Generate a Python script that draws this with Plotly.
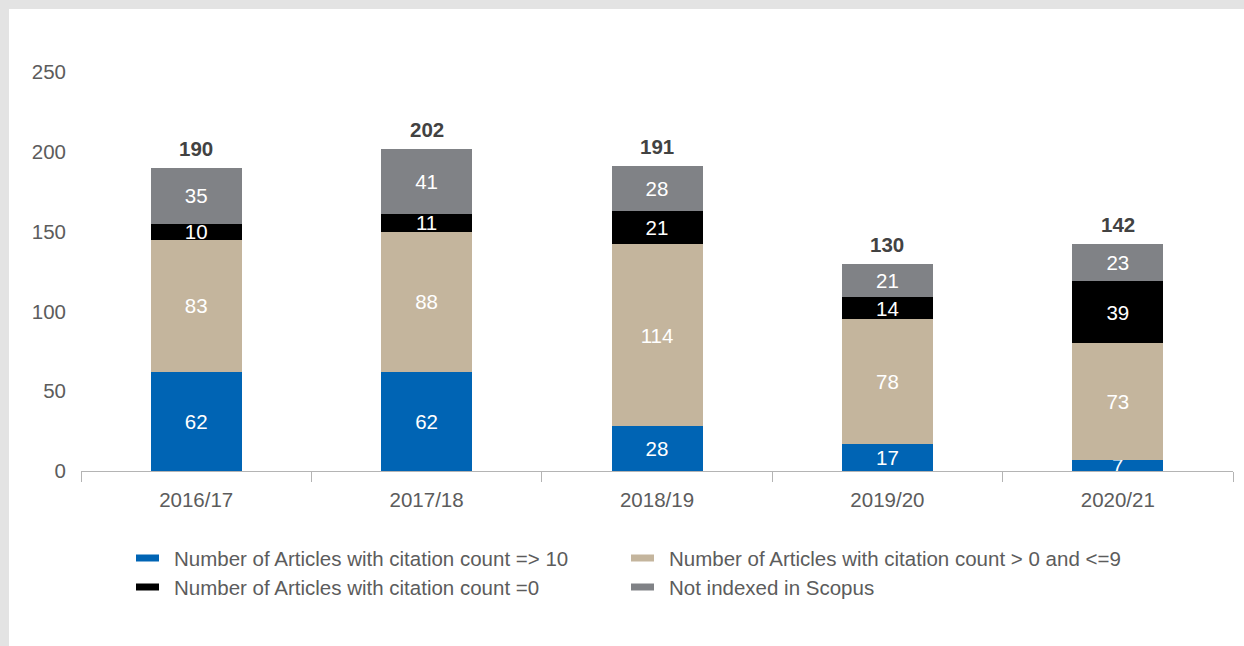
import plotly.graph_objects as go

years = ["2016/17", "2017/18", "2018/19", "2019/20", "2020/21"]
cited_10_plus = [62, 62, 28, 17, 7]
cited_1_to_9 = [83, 88, 114, 78, 73]
cited_zero = [10, 11, 21, 14, 39]
not_indexed = [35, 41, 28, 21, 23]
totals = [190, 202, 191, 130, 142]

series_names = [
    "Number of Articles with citation count => 10",
    "Number of Articles with citation count > 0 and <=9",
    "Number of Articles with citation count =0",
    "Not indexed in Scopus",
]
series_values = [cited_10_plus, cited_1_to_9, cited_zero, not_indexed]
series_colors = ["#0064b4", "#c4b59d", "#000000", "#808286"]

FONT = "Liberation Sans, Arial, sans-serif"
FS = 20.5
TEXT_GREY = "#5c5c5c"
AXIS_GREY = "#b4b4b4"

fig = go.Figure()
for name, vals, col in zip(series_names, series_values, series_colors):
    fig.add_trace(go.Bar(
        x=years, y=vals, name=name,
        marker=dict(color=col, line=dict(width=0)),
        text=[str(v) for v in vals],
        textposition="inside", insidetextanchor="middle", textangle=0,
        textfont=dict(family=FONT, size=FS, color="white"),
        showlegend=False,
    ))

# totals above each stack
for yr, tot in zip(years, totals):
    fig.add_annotation(
        x=yr, y=tot, xref="x", yref="y", text=f"<b>{tot}</b>",
        showarrow=False, yanchor="bottom", yshift=6,
        font=dict(family=FONT, size=FS, color="#424242"),
    )

# plot area geometry in pixels (used to place the legend and panel)
W, H = 1244, 646
ML, MR, MT, MB = 81, 11, 72, 175
PW, PH = W - ML - MR, H - MT - MB


def px_x(px):
    return (px - ML) / PW


def px_y(py):
    return (H - MB - py) / PH


# white panel over the grey border
fig.add_shape(type="rect", xref="paper", yref="paper", layer="below",
              x0=px_x(9), x1=px_x(W + 20), y0=px_y(H + 20), y1=px_y(9),
              fillcolor="white", line=dict(width=0))

# two-column legend
legend_slots = [(136, 558), (631, 558), (136, 587), (631, 587)]
for (sx, sy), name, col in zip(legend_slots, series_names, series_colors):
    fig.add_shape(type="rect", xref="paper", yref="paper",
                  x0=px_x(sx), x1=px_x(sx + 23), y0=px_y(sy + 3.5), y1=px_y(sy - 3.5),
                  fillcolor=col, line=dict(width=0))
    fig.add_annotation(x=px_x(sx + 36), y=px_y(sy), xref="paper", yref="paper",
                       text=name, showarrow=False, xanchor="left", yanchor="middle",
                       font=dict(family=FONT, size=FS, color=TEXT_GREY))

fig.update_layout(
    width=W, height=H,
    margin=dict(l=ML, r=MR, t=MT, b=MB, pad=0),
    barmode="stack", bargap=0.605,
    paper_bgcolor="#e3e3e3", plot_bgcolor="white",
    uniformtext=dict(minsize=FS, mode="show"),
    font=dict(family=FONT, size=FS, color=TEXT_GREY),
    showlegend=False,
)
fig.update_xaxes(
    type="category", tickson="boundaries", ticks="outside", ticklen=10,
    tickcolor=AXIS_GREY, tickwidth=1, showline=True, linecolor=AXIS_GREY, linewidth=1,
    showgrid=False, ticklabelstandoff=10,
    tickfont=dict(family=FONT, size=FS, color=TEXT_GREY),
)
fig.update_yaxes(
    range=[0, 250], tickvals=[0, 50, 100, 150, 200, 250], showgrid=False,
    zeroline=False, showline=False, ticks="", ticklabelstandoff=14,
    tickfont=dict(family=FONT, size=FS, color=TEXT_GREY),
)

fig.write_html("out.html")
